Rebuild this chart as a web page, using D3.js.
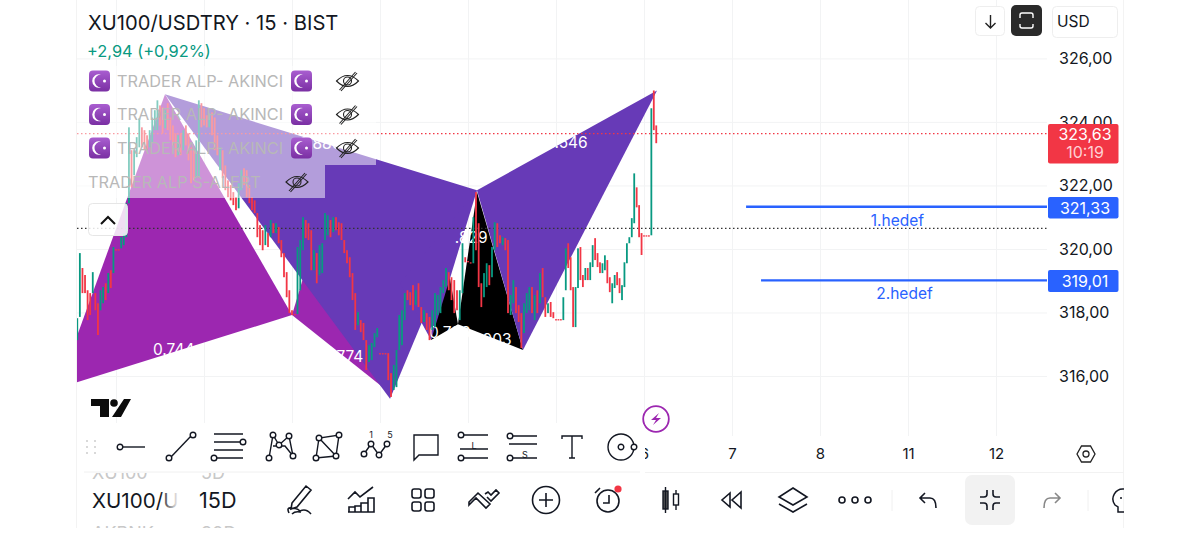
<!DOCTYPE html>
<html><head><meta charset="utf-8">
<script src="https://cdn.jsdelivr.net/npm/d3@7"></script>
<style>html,body{margin:0;padding:0;background:#fff;overflow:hidden}svg{display:block;font-family:Inter,"Noto Sans",sans-serif}</style>
</head><body><svg id="c" width="1200" height="554"></svg>
<script>
// ---- data: candles [open, close] per session
const sessionStarts=[-0.44,0,1,2,3,4,5,6];
const sessionEnds=[0,1,2,3,4,5,6,6.167];
const sessionP=[[317.13,317.82],[317.86,319.87],[319.40,318.61],[319.18,318.61],[318.70,317.76],[318.61,317.92],[318.61,319.27],[318.61,318.07],[318.29,317.29],[318.07,318.70],[318.29,318.80],[318.92,318.39],[318.61,319.24],[319.33,318.77],[319.24,320.06]];
const session0=[[319.99,319.99],[319.99,319.99],[320.02,320.37],[320.12,320.50],[320.37,321.44],[321.44,323.83],[323.11,321.94],[322.32,323.11],[322.89,323.52],[323.20,324.11],[323.83,323.20],[323.74,323.11],[323.58,323.11],[323.20,323.74],[323.36,324.14],[323.74,324.37],[323.74,324.68],[324.52,323.89],[324.46,323.64],[323.80,324.37],[324.59,323.74],[324.14,323.42],[323.89,323.26],[323.64,322.89],[322.95,323.58],[323.64,322.95],[323.11,323.74],[323.89,323.26],[323.64,322.79],[323.20,322.07],[323.11,322.16],[322.23,323.42],[322.26,324.68],[324.59,323.83]];
const session1=[[324.43,323.89],[324.21,323.83],[323.83,324.27],[324.30,323.58],[324.14,323.11],[323.58,322.95],[322.48,323.20],[323.11,322.23],[322.63,321.85],[322.16,321.63],[322.01,321.53],[321.79,321.38],[321.63,321.22],[321.28,322.07],[321.85,322.48],[322.54,322.01],[322.48,321.63],[322.01,321.44],[321.63,321.22],[321.53,321.13],[321.13,320.37],[320.75,320.12],[320.59,319.96],[320.12,320.75],[320.50,320.06],[320.37,320.91],[320.81,320.50],[320.50,320.81],[320.69,320.18],[320.28,319.74],[319.87,319.11],[319.27,318.48],[318.70,317.98]];
const session2=[[318.07,317.92],[317.95,317.95],[317.95,320.06],[318.70,320.28],[319.96,321.00],[320.91,320.34],[320.81,320.28],[320.59,319.33],[319.33,319.96],[319.87,318.92],[319.18,320.12],[319.24,320.18],[320.28,321.13],[320.43,321.06],[320.91,320.37],[320.53,321.00],[321.00,320.59],[320.84,320.43],[320.81,320.28],[320.28,319.87],[319.96,319.55],[319.74,319.11],[319.24,318.39],[318.61,317.45],[317.60,318.01],[317.76,317.38],[317.67,317.13],[317.13,316.19],[316.44,316.97],[316.50,317.04],[316.91,317.35],[317.22,317.51]];
const session3=[[316.72,316.72],[316.72,316.72],[316.72,316.72],[316.72,315.87],[316.09,315.34],[315.56,316.35],[315.65,316.82],[316.82,317.92],[316.97,318.07],[317.76,318.61],[318.70,318.39],[318.64,318.23],[318.86,318.07],[318.23,318.70],[318.92,318.17],[318.17,317.67],[317.70,318.07],[317.98,317.45],[317.86,317.13],[317.45,318.07],[317.54,318.61],[317.92,318.55],[317.98,318.80],[318.61,319.02],[318.80,319.40],[319.27,318.70],[319.11,318.39],[319.02,317.98],[318.70,318.07],[317.76,318.70],[318.61,320.18],[319.74,319.58]];
const session4=[[319.62,319.60],[319.58,319.58],[319.55,321.00],[321.79,319.96],[320.81,318.80],[318.92,318.17],[318.48,319.24],[318.80,319.55],[319.49,318.86],[319.11,320.06],[319.96,320.84],[320.81,320.06],[320.43,320.18],[320.12,320.37],[320.34,319.96],[320.28,317.98],[317.92,318.55],[318.29,319.02],[318.80,317.98],[318.23,317.70],[317.98,316.88],[317.35,318.29],[317.98,318.61],[318.07,318.80],[318.80,317.98],[317.76,318.55],[318.70,317.98],[318.29,319.24],[319.40,318.48],[318.48,317.86],[317.98,318.29],[318.33,317.86],[318.01,317.82]];
const session5=[[317.79,317.79],[317.79,317.79],[317.79,317.79],[317.76,318.48],[318.70,320.02],[320.18,319.40],[319.74,318.70],[318.80,317.54],[317.54,318.80],[318.77,320.02],[320.06,319.02],[319.18,318.80],[319.02,319.40],[319.40,319.02],[319.02,319.58],[319.43,320.12],[320.34,319.65],[319.87,319.43],[319.58,319.24],[319.24,319.55],[319.33,319.80],[319.65,318.92],[319.11,318.64],[318.29,318.92],[318.77,319.18],[319.27,318.86],[319.08,318.61],[318.39,318.86],[318.80,319.58],[319.55,320.18],[320.18,320.37],[320.37,320.97],[320.81,322.38],[321.94,321.31],[321.38,320.37],[320.50,319.81]];
const session6=[[320.43,320.43],[320.43,320.43],[320.43,320.43],[320.43,324.43],[324.99,323.74],[323.89,323.33]];
const sessions=[sessionP,session0,session1,session2,session3,session4,session5,session6];
// harmonic pattern shapes [day, price]
const magentaA=[[-0.659,315.62],[0.557,324.87],[2.0,317.92]];
const magentaB=[[2.0,317.92],[2.34,321.06],[3.057,315.59]];
const blackA=[[3.58,317.13],[3.886,317.63],[3.739,319.96]];
const blackB=[[3.886,317.63],[4.102,321.79],[4.625,316.82]];
const indigoA=[[0.557,324.87],[4.102,321.85],[3.114,315.28]];
const indigoB=[[4.102,321.85],[3.58,317.13],[3.227,318.92]];
const indigoC=[[4.102,321.85],[4.625,316.82],[6.148,324.99]];
const ratioLabels=[["0.744",0.42,316.66],["0.774",2.35,316.44],["0.886",2.08,323.14],[".829",3.85,320.18],["0.786",3.557,317.19],["0.903",4.01,316.97],["1.546",4.91,323.19]];
const priceTicks=[326,324,322,320,318,316];
const gridDays=[0,1,2,3,4,5,6,7,8,9,10];
const tickDays=[6,7,8,9,10];
const tickLabels=["6","7","8","11","12"];
const lastPrice=323.63, prevClose=320.65;
const targets=[{name:"1.hedef",price:321.33,fromDay:7.16,labelDay:8.88},{name:"2.hedef",price:319.01,fromDay:7.33,labelDay:8.96}];
const legendRows=["TRADER ALP- AKINCI","TRADER ALP- AKINCI","TRADER ALP- AKINCI"];
const legendLast="TRADER ALP S-ALERT";
const green="#089981",red="#f23645",blue="#2962ff",ink="#131722";

const svg=d3.select("#c");
const fmt=v=>v.toFixed(2).replace(".",",");
const x=d3.scaleLinear().domain([0,10]).range([116,996]);
const y=d3.scaleLinear().domain([316,326]).range([376,58.4]);
const defs=svg.append("defs");
defs.append("clipPath").attr("id","plot").append("rect").attr("x",77).attr("y",0).attr("width",970).attr("height",472);
defs.append("clipPath").attr("id","tick").append("rect").attr("x",76).attr("y",473).attr("width",103).attr("height",55);
defs.append("clipPath").attr("id","tick2").append("rect").attr("x",190).attr("y",473).attr("width",60).attr("height",55);
const lg=defs.append("linearGradient").attr("id","moon").attr("x1",0).attr("y1",0).attr("x2",0).attr("y2",1);
lg.append("stop").attr("offset",0).attr("stop-color","#a95ed0");lg.append("stop").attr("offset",1).attr("stop-color","#7a2fa3");
const fade=defs.append("linearGradient").attr("id","fade");
fade.append("stop").attr("offset",0).attr("stop-color","#fff").attr("stop-opacity",0);fade.append("stop").attr("offset",1).attr("stop-color","#fff");

// frame
[76.5,1123.5].forEach(px=>svg.append("line").attr("x1",px).attr("x2",px).attr("y1",0).attr("y2",528).attr("stroke","#f3f3f3"));

// grid
const gridY=svg.append("g").attr("transform","translate(1047,0)").call(d3.axisLeft(y).tickValues(priceTicks).tickSize(970).tickFormat(""));
gridY.select(".domain").remove();gridY.selectAll("line").attr("stroke","#f2f3f4");
const gridX=svg.append("g").attr("transform","translate(0,436)").call(d3.axisTop(x).tickValues(gridDays).tickSize(436).tickFormat(""));
gridX.select(".domain").remove();gridX.selectAll("line").attr("stroke","#f2f3f4");

// price line helpers
const plot=svg.append("g").attr("clip-path","url(#plot)");
const poly=d=>d.map(p=>[x(p[0]),y(p[1])].join(",")).join(" ");
plot.selectAll("polygon.m").data([magentaA,magentaB]).join("polygon").attr("points",poly).attr("fill","#9c27b0");
plot.selectAll("polygon.b").data([blackA,blackB]).join("polygon").attr("points",poly).attr("fill","#000");
plot.selectAll("polygon.i").data([indigoA,indigoB,indigoC]).join("polygon").attr("points",poly).attr("fill","#673ab7");
// ratio labels
plot.selectAll("text.r").data(ratioLabels).join("text").attr("x",d=>x(d[1])).attr("y",d=>y(d[2])).text(d=>d[0]).attr("fill","#fff").attr("font-size",15.5);

// dotted lines
plot.append("line").attr("x1",77).attr("x2",1047).attr("y1",y(prevClose)).attr("y2",y(prevClose)).attr("stroke","#333").attr("stroke-dasharray","1.5 2.5").attr("stroke-width",1.2);
plot.append("line").attr("x1",77).attr("x2",1047).attr("y1",y(lastPrice)).attr("y2",y(lastPrice)).attr("stroke",red).attr("stroke-dasharray","1.5 2.5").attr("stroke-width",1.2);

// candles
sessions.forEach((bars,si)=>{
  const s=sessionStarts[si],e=sessionEnds[si];
  const t=i=>s+(e-s)*i/bars.length;
  plot.append("g").selectAll("rect").data(bars).join("rect")
    .attr("x",(d,i)=>x(t(i))-0.9).attr("width",1.8)
    .attr("y",d=>y(Math.max(d[0],d[1]))).attr("height",d=>Math.max(1.3,Math.abs(y(d[0])-y(d[1]))))
    .attr("fill",d=>d[1]>=d[0]&&d[1]!==d[0]?green:red);
});

// targets
targets.forEach(tg=>{
  plot.append("line").attr("x1",x(tg.fromDay)).attr("x2",1047).attr("y1",y(tg.price)).attr("y2",y(tg.price)).attr("stroke",blue).attr("stroke-width",2.4);
  svg.append("text").attr("x",x(tg.labelDay)).attr("y",y(tg.price)+19).attr("text-anchor","middle").attr("fill",blue).attr("font-size",15.5).text(tg.name);
});

// legend wash
svg.append("rect").attr("x",77).attr("y",66).attr("width",299).attr("height",99).attr("fill","#fff").attr("opacity",.5);
svg.append("rect").attr("x",77).attr("y",165).attr("width",248).attr("height",33).attr("fill","#fff").attr("opacity",.5);

// title
svg.append("text").attr("x",88).attr("y",30).attr("font-size",20.2).attr("fill",ink).text("XU100/USDTRY · 15 · BIST");
svg.append("text").attr("x",87).attr("y",57).attr("font-size",16.4).attr("fill",green).text("+2,94 (+0,92%)");

function moon(cx,cy){
  const g=svg.append("g").attr("transform",`translate(${cx},${cy})`);
  g.append("rect").attr("x",-10.5).attr("y",-10.5).attr("width",21).attr("height",21).attr("rx",4).attr("fill","url(#moon)");
  g.append("path").attr("d","M1.5 -6.5A6.8 6.8 0 1 0 1.5 6.5A5.4 5.4 0 1 1 1.5 -6.5Z").attr("fill","#fff");
  g.append("circle").attr("cx",5).attr("cy",0).attr("r",1.5).attr("fill","#fff");
}
function eye(cx,cy){
  const g=svg.append("g").attr("transform",`translate(${cx},${cy})`).attr("fill","none").attr("stroke","#222").attr("stroke-width",1.1);
  g.append("path").attr("d","M-11 0Q0 -11 11 0Q0 11 -11 0Z");
  g.append("circle").attr("r",4);
  g.append("line").attr("x1",-8).attr("y1",9).attr("x2",8).attr("y2",-9);
  g.append("line").attr("x1",-6.5).attr("y1",10).attr("x2",9.5).attr("y2",-8);
}
const rowsY=[81,114.5,148];
legendRows.forEach((t,i)=>{
  moon(99.5,rowsY[i]);
  svg.append("text").attr("x",117).attr("y",rowsY[i]+5.8).attr("font-size",16.3).attr("fill","#b8b8b8").text(t);
  moon(301.5,rowsY[i]);
  eye(347.5,rowsY[i]);
});
svg.append("text").attr("x",88).attr("y",187.8).attr("font-size",16.3).attr("fill","#b8b8b8").text(legendLast);
eye(297,182);
svg.append("rect").attr("x",88.5).attr("y",203.5).attr("width",39).attr("height",32).attr("rx",4).attr("fill","#fff").attr("fill-opacity",.85).attr("stroke","#e6e6e6");
svg.append("path").attr("d","M101 224L108 217L115 224").attr("fill","none").attr("stroke","#111").attr("stroke-width",2);

// price axis
const yAxis=svg.append("g").attr("transform","translate(1047,0)").call(d3.axisRight(y).tickValues(priceTicks).tickSize(0).tickPadding(12).tickFormat(fmt));
yAxis.select(".domain").remove();yAxis.selectAll("text").attr("font-size",16).attr("font-family","Inter").attr("fill",ink);

// price tags
function tag(py,h,fill,lines){
  svg.append("rect").attr("x",1048).attr("y",py).attr("width",70.5).attr("height",h).attr("rx",2).attr("fill",fill);
  lines.forEach(l=>svg.append("text").attr("x",1085).attr("y",l[1]).attr("text-anchor","middle").attr("font-size",16).attr("fill",l[2]).text(l[0]));
}
tag(124,39.5,red,[[fmt(lastPrice),139.5,"#fff"],["10:19",157.5,"#ffd0d4"]]);
tag(197,21.5,blue,[[fmt(targets[0].price),213.5,"#fff"]]);
tag(270,22,blue,[[fmt(targets[1].price),287,"#fff"]]);

// top buttons
svg.append("rect").attr("x",975.5).attr("y",6.5).attr("width",29).attr("height",29).attr("rx",4).attr("fill","#fff").attr("stroke","#eee");
svg.append("path").attr("d","M990.5 15V28M985.5 23L990.5 28L995.5 23").attr("fill","none").attr("stroke","#222").attr("stroke-width",1.4);
svg.append("rect").attr("x",1011).attr("y",5).attr("width",31).attr("height",31).attr("rx",5).attr("fill","#2a2a2a");
svg.append("path").attr("d","M1020 18V15Q1020 13 1022 13H1031Q1033 13 1033 15V18M1020 24V26Q1020 28 1022 28H1031Q1033 28 1033 26V24").attr("fill","none").attr("stroke","#fff").attr("stroke-width",1.4);
svg.append("rect").attr("x",1052.5).attr("y",6.5).attr("width",65).attr("height",31).attr("rx",4).attr("fill","#fff").attr("stroke","#eee");
svg.append("text").attr("x",1057).attr("y",27).attr("font-size",15.5).attr("fill",ink).text("USD");

// logo
svg.append("path").attr("d","M91 399H109V417H100V406H91ZM124 399H131L121 417H112Z").attr("fill","#0c0c0c");
svg.append("circle").attr("cx",114).attr("cy",403).attr("r",3.8).attr("fill","#0c0c0c");

// lightning
svg.append("circle").attr("cx",656).attr("cy",419).attr("r",12.8).attr("fill","#fff").attr("stroke","#9c27b0").attr("stroke-width",1.8);
svg.append("path").attr("d","M659 413L651 420H656L653 425L661 418H656Z").attr("fill","#9c27b0");

// time axis
const xAxis=svg.append("g").attr("transform","translate(0,442)").call(d3.axisBottom(x).tickValues(tickDays).tickSize(0).tickPadding(6).tickFormat((d,i)=>tickLabels[i]));
xAxis.select(".domain").remove();xAxis.selectAll("text").attr("font-size",15).attr("font-family","Inter").attr("fill",ink);
svg.append("line").attr("x1",645).attr("x2",1124).attr("y1",472.5).attr("y2",472.5).attr("stroke","#f2f2f2");
const hex=svg.append("g").attr("transform","translate(1086,454)").attr("fill","none").attr("stroke","#222").attr("stroke-width",1.3);
hex.append("path").attr("d","M-9 0L-4.5 -8H4.5L9 0L4.5 8H-4.5Z");hex.append("circle").attr("r",3);

// bottom symbol picker
const pick=svg.append("g").attr("clip-path","url(#tick)");
[["XU100",92,479,18,"#c8c8c8"],["AKBNK",92,540,18,"#c8c8c8"],["XU100/U",92,508,20.6,ink]].forEach(d=>pick.append("text").attr("x",d[1]).attr("y",d[2]).attr("font-size",d[3]).attr("fill",d[4]).text(d[0]));
svg.append("rect").attr("x",160).attr("y",490).attr("width",19).attr("height",22).attr("fill","url(#fade)");
const pick2=svg.append("g").attr("clip-path","url(#tick2)");
[["5D",201,479,18,"#c8c8c8"],["30D",201,540,18,"#c8c8c8"]].forEach(d=>pick2.append("text").attr("x",d[1]).attr("y",d[2]).attr("font-size",d[3]).attr("fill",d[4]).text(d[0]));
svg.append("text").attr("x",199).attr("y",508).attr("font-size",21.6).attr("fill",ink).text("15D");

// drawing toolbar
svg.append("rect").attr("x",77).attr("y",423).attr("width",568).attr("height",49).attr("rx",6).attr("fill","#fff");
svg.append("line").attr("x1",84).attr("x2",640).attr("y1",472).attr("y2",472).attr("stroke","#f0f0f0");
[[87,441],[95,441],[87,447],[95,447],[87,453],[95,453]].forEach(p=>svg.append("circle").attr("cx",p[0]).attr("cy",p[1]).attr("r",1).attr("fill","#ccc"));
function ic(cx,cy,sw){return svg.append("g").attr("transform",`translate(${cx},${cy})`).attr("fill","none").attr("stroke",ink).attr("stroke-width",sw||1.4);}
const toolY=447;
function nodes(g,pts,r){pts.forEach(p=>g.append("circle").attr("cx",p[0]).attr("cy",p[1]).attr("r",r||2.8).attr("fill","#fff"));}
let g=ic(131,toolY);g.append("path").attr("d","M-10 0H14");nodes(g,[[-11,0]]);
g=ic(181,toolY);g.append("path").attr("d","M-11 11L11 -12");nodes(g,[[-12,11],[12,-12]]);
g=ic(229,toolY);g.append("path").attr("d","M-15 -13H14M-15 -5H14M-15 3H14M-15 11H14");nodes(g,[[14,-5],[-15,11]]);
g=ic(279,toolY);g.append("path").attr("d","M-10 11L-6 -12L0 -2L10 -11L14 9L6 -1L-6 -1");nodes(g,[[-10,11],[-6,-12],[0,-2],[10,-11],[14,9]]);
g=ic(327,toolY);g.append("path").attr("d","M-11 11L-8 -9L12 -12L9 9ZM-8 -9L9 9");nodes(g,[[-11,11],[-8,-9],[12,-12],[9,9]]);
g=ic(376,toolY);g.append("path").attr("d","M-12 7L-5 -3L3 8L11 -3");nodes(g,[[-12,7],[-5,-3],[3,8],[11,-3]]);
svg.append("text").attr("x",371).attr("y",438).attr("font-size",9).attr("text-anchor","middle").attr("fill",ink).text("1");
svg.append("text").attr("x",390).attr("y",438).attr("font-size",9).attr("text-anchor","middle").attr("fill",ink).text("5");
g=ic(426,toolY);g.append("path").attr("d","M-12 -12H12V8H-7L-12 13Z");
g=ic(474,toolY);g.append("path").attr("d","M-10 -12H14M-14 2H14M-10 11H14");nodes(g,[[-13,-12],[-13,11]]);
svg.append("text").attr("x",474).attr("y",449).attr("font-size",9).attr("text-anchor","middle").attr("fill",ink).text("L");
g=ic(523,toolY);g.append("path").attr("d","M-10 -11H14M-14 -3H14M-10 11H14");nodes(g,[[-13,-11],[-13,11]]);
svg.append("text").attr("x",525).attr("y",458).attr("font-size",9).attr("text-anchor","middle").attr("fill",ink).text("S");
g=ic(572,toolY);g.append("path").attr("d","M-10 -8V-11H10V-8M0 -11V11M-3 11H3");
g=ic(621,toolY);g.append("circle").attr("r",13);nodes(g,[[0,0],[13,0]]);

// main bar icons
const my=500;
g=ic(300,my,1.6);g.append("path").attr("d","M-8 3L6 -14L11 -10L-3 7L-9 9ZM-11 13Q-14 7 -8 8Q0 9 0 12Q-5 11 -8 14M0 11Q6 8 11 14");
g=ic(361,my,1.6);g.append("path").attr("d","M-13 -1L-6 -8L-1 -3L12 -13M-13 12H13V-2H7V12M7 3H0V12M0 6H-6V12M-6 7H-12V12");
g=ic(423,my,1.6);[[-11,-11],[2,-11],[-11,2],[2,2]].forEach(p=>g.append("rect").attr("x",p[0]).attr("y",p[1]).attr("width",9).attr("height",9).attr("rx",2.2));
g=ic(484,my,1.6);g.append("path").attr("d","M-15 5L-8 -2L2 8L6 4L-6 -7L-15 2ZM3 -3L7 1L15 -7L12 -10L7 -5L4 -8L1 -6");
g=ic(546,my,1.6);g.append("circle").attr("r",13.5);g.append("path").attr("d","M-7 0H7M0 -7V7");
g=ic(608,my,1.6);g.append("circle").attr("cy",1).attr("r",11);g.append("path").attr("d","M1 -5V3H-5M-13 -7L-8 -12");
svg.append("circle").attr("cx",618).attr("cy",489).attr("r",3.6).attr("fill","#f23645");
g=ic(670,my,1.4);g.append("rect").attr("x",-7).attr("y",-9).attr("width",5).attr("height",18).attr("fill","#555");g.append("path").attr("d","M-4.5 -13V13M6 -10V10");g.append("rect").attr("x",3.5).attr("y",-6).attr("width",5).attr("height",11).attr("fill","#fff");
g=ic(732,my,1.6);g.append("path").attr("d","M-2 -7L-10 0L-2 7ZM9 -8L0 0L9 8Z");
g=ic(793,my,1.6);g.append("path").attr("d","M0 -12L14 -3L0 5L-14 -3ZM-14 4L0 12L14 4");
g=ic(855,my,1.6);[-13,0,13].forEach(d=>g.append("circle").attr("cx",d).attr("r",3));
svg.append("line").attr("x1",892).attr("x2",892).attr("y1",490).attr("y2",511).attr("stroke","#f0f0f0");
g=ic(928,my,1.6);g.append("path").attr("d","M-3 -7L-8 -2L-3 3M-8 -2H2Q8 -2 8 8");
svg.append("rect").attr("x",965).attr("y",475).attr("width",50).attr("height",50).attr("rx",7).attr("fill","#f2f2f2");
g=ic(990,my,1.6);g.append("path").attr("d","M-3 -10V-6Q-3 -3 -6 -3H-10M3 -10V-6Q3 -3 6 -3H10M-3 10V6Q-3 3 -6 3H-10M3 10V6Q3 3 6 3H10");
g=ic(1052,my,1.6).attr("stroke","#888");g.append("path").attr("d","M3 -7L8 -2L3 3M8 -2H-2Q-8 -2 -8 8");
svg.append("line").attr("x1",1088).attr("x2",1088).attr("y1",490).attr("y2",511).attr("stroke","#f0f0f0");
g=ic(1123,my,1.5);g.append("path").attr("d","M1 -11A10 10 0 0 0 -8 5L-5 7V12H1M-3 -2H-1");
svg.append("rect").attr("x",1124).attr("y",480).attr("width",30).attr("height",50).attr("fill","#fff");
</script></body></html>
